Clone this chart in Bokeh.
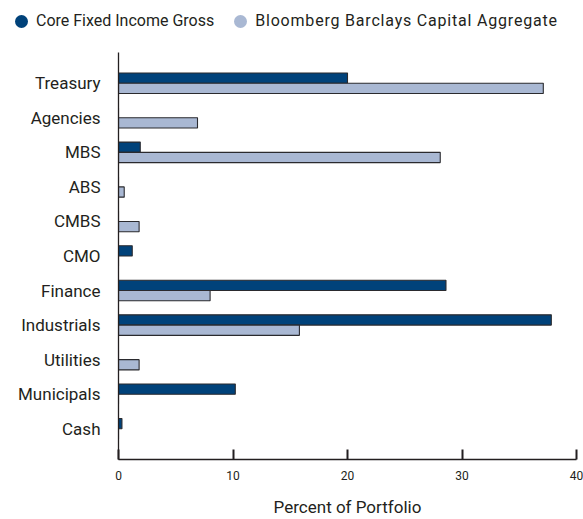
from bokeh.plotting import figure
from bokeh.layouts import column
from bokeh.models import FactorRange, Range1d, FixedTicker, ColumnDataSource, Div
from bokeh.transform import dodge
from bokeh.embed import file_html
from bokeh.resources import INLINE

categories = ["Treasury", "Agencies", "MBS", "ABS", "CMBS", "CMO", "Finance",
              "Industrials", "Utilities", "Municipals", "Cash"]
core = [20.0, 0.0, 1.9, 0.0, 0.0, 1.2, 28.6, 37.8, 0.0, 10.2, 0.3]
bbca = [37.1, 6.9, 28.1, 0.5, 1.8, 0.0, 8.0, 15.8, 1.8, 0.0, 0.0]
series_names = ["Core Fixed Income Gross", "Bloomberg Barclays Capital Aggregate"]
x_ticks = [0, 10, 20, 30, 40]

DARK = "#00427A"
LIGHT = "#A9B8D3"
EDGE = "#2a2a2e"
FONT = "Roboto"
TXT = "#231f20"

# ---- legend strip (HTML text, real text) ----
def dot(color, ml):
    return ('<span style="display:inline-block;width:13px;height:13px;border-radius:50%;'
            f'background:{color};vertical-align:-2px;margin-left:{ml}px;margin-right:8px"></span>')

legend_html = (f'<div style="font-family:\'{FONT}\';font-size:16px;color:{TXT};white-space:nowrap;'
               'line-height:20px;padding-top:11px;padding-left:15px;margin:0">'
               + dot(DARK, 0) + series_names[0]
               + dot(LIGHT, 20) + '<span style="letter-spacing:0.8px">' + series_names[1]
               + '</span></div>')
leg = Div(text=legend_html, width=583, height=44, margin=0)

# ---- main chart ----
src = ColumnDataSource(dict(cat=categories, core=core, bbca=bbca))

p = figure(width=583, height=475, output_backend="svg", toolbar_location=None,
           y_range=FactorRange(*reversed(categories), range_padding=0.39,
                               range_padding_units="absolute"),
           x_range=Range1d(0, 40),
           min_border_left=118, min_border_right=7, min_border_top=8,
           min_border_bottom=57, margin=0)

p.hbar(y=dodge("cat", 0.148, range=p.y_range), right="core", left=0, height=0.296,
       source=src, fill_color=DARK, line_color=EDGE, line_width=1.1)
p.hbar(y=dodge("cat", -0.148, range=p.y_range), right="bbca", left=0, height=0.296,
       source=src, fill_color=LIGHT, line_color=EDGE, line_width=1.1)

p.grid.visible = False
p.outline_line_color = None

p.xaxis.ticker = FixedTicker(ticks=x_ticks)
p.xaxis.axis_label = "Percent of Portfolio"
p.xaxis.axis_label_text_font = FONT
p.xaxis.axis_label_text_font_style = "normal"
p.xaxis.axis_label_text_font_size = "17px"
p.xaxis.axis_label_text_color = TXT
p.xaxis.axis_label_standoff = 14
p.xaxis.major_label_text_font = FONT
p.xaxis.major_label_text_font_size = "12px"
p.xaxis.major_label_text_color = TXT
p.xaxis.major_label_standoff = 11
p.xaxis.major_tick_in = 10
p.xaxis.major_tick_out = 0
p.xaxis.major_tick_line_width = 2
p.xaxis.major_tick_line_color = TXT
p.xaxis.minor_tick_line_color = None
p.xaxis.axis_line_color = TXT
p.xaxis.axis_line_width = 1.3

p.yaxis.major_label_text_font = FONT
p.yaxis.major_label_text_font_size = "17px"
p.yaxis.major_label_text_color = TXT
p.yaxis.major_label_standoff = 12
p.yaxis.major_tick_line_color = None
p.yaxis.axis_line_color = TXT
p.yaxis.axis_line_width = 1.3

layout = column(leg, p, spacing=0)
open("out.html", "w").write(file_html(layout, INLINE))
